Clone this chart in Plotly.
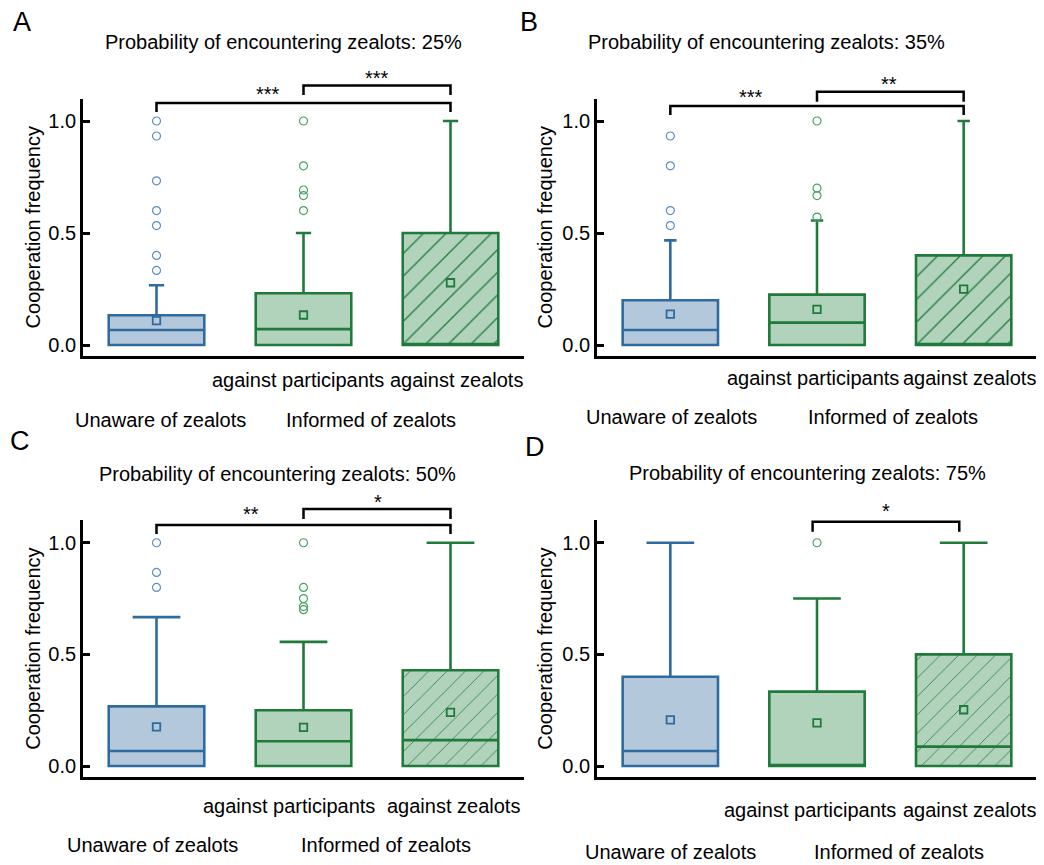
import plotly.graph_objects as go

# ---------------- data ----------------
categories = ["Unaware of zealots", "against participants", "against zealots"]
group_labels = ["Unaware of zealots", "Informed of zealots"]
positions = [0, 1, 2]
panel_letters = ["A", "B", "C", "D"]
probabilities = ["25%", "35%", "50%", "75%"]

q1_A = [0.0, 0.0, 0.0]
median_A = [0.067, 0.071, 0.0]
q3_A = [0.133, 0.231, 0.5]
upper_A = [0.267, 0.5, 1.0]
mean_A = [0.109, 0.134, 0.278]
outliers_A = [[0.333, 0.4, 0.533, 0.6, 0.733, 0.933, 1.0], [0.6, 0.667, 0.692, 0.8, 1.0], []]

q1_B = [0.0, 0.0, 0.0]
median_B = [0.067, 0.1, 0.0]
q3_B = [0.2, 0.225, 0.4]
upper_B = [0.467, 0.556, 1.0]
mean_B = [0.138, 0.159, 0.249]
outliers_B = [[0.533, 0.6, 0.8, 0.933], [0.571, 0.667, 0.7, 1.0], []]

q1_C = [0.0, 0.0, 0.0]
median_C = [0.067, 0.111, 0.116]
q3_C = [0.267, 0.25, 0.429]
upper_C = [0.667, 0.556, 1.0]
mean_C = [0.175, 0.173, 0.24]
outliers_C = [[0.8, 0.867, 1.0], [0.7, 0.714, 0.75, 0.8, 1.0], []]

q1_D = [0.0, 0.0, 0.0]
median_D = [0.067, 0.0, 0.087]
q3_D = [0.4, 0.333, 0.5]
upper_D = [1.0, 0.75, 1.0]
mean_D = [0.207, 0.193, 0.252]
outliers_D = [[], [1.0], []]

# significance: (label, from category, to category)
sig_A = [("***", 0, 2), ("***", 1, 2)]
sig_B = [("***", 0, 2), ("**", 1, 2)]
sig_C = [("**", 0, 2), ("*", 1, 2)]
sig_D = [("*", 1, 2)]

# ---------------- style / layout ----------------
FONT = "Liberation Sans, Arial, sans-serif"
BLUE_LINE = "#2f6b9e"
BLUE_FILL = "#b3c8da"
BLUE_OUT = "#5a8fc2"
GREEN_LINE = "#1f7a3b"
GREEN_FILL = "#b1d3bb"
GREEN_OUT = "#47a265"
OFF = 8                      # page body margin of the browser
W, H = 1044 - OFF, 865 - OFF
XR = [-0.5, 2.5]
YR = [-0.05, 1.10]
BOXW = 0.65

panels = [
    dict(q1=q1_A, med=median_A, q3=q3_A, up=upper_A, mean=mean_A, out=outliers_A, sig=sig_A,
         xpx=(83, 524), ypx=(98.6, 356.2), whisk=0.16, hatch=16, sol=0.08,
         br=[(1.08, 1.04, 0.0, 2.0), (1.158, 1.116, 1.0, 2.0)], st=[(0.76, 1.13), (1.5, 1.202)],
         lab_y=(380, 420), lab_x=(0.96, 2.04, 0.03, 1.46), title_px=(283, 42), letter_px=(22, 22),
         ytitle_x=33),
    dict(q1=q1_B, med=median_B, q3=q3_B, up=upper_B, mean=mean_B, out=outliers_B, sig=sig_B,
         xpx=(597, 1037), ypx=(98.6, 356.2), whisk=0.13, hatch=16, sol=0.08,
         br=[(1.067, 1.027, 0.0, 2.0), (1.131, 1.086, 1.0, 2.0)], st=[(0.55, 1.119), (1.49, 1.173)],
         lab_y=(378, 417), lab_x=(0.97, 2.04, 0.01, 1.52), title_px=(766, 42), letter_px=(529, 22),
         ytitle_x=545),
    dict(q1=q1_C, med=median_C, q3=q3_C, up=upper_C, mean=mean_C, out=outliers_C, sig=sig_C,
         xpx=(83, 524), ypx=(520.4, 777.2), whisk=0.5, hatch=13, sol=0.06,
         br=[(1.079, 1.039, 0.0, 2.0), (1.151, 1.106, 1.0, 2.0)], st=[(0.64, 1.139), (1.51, 1.191)],
         lab_y=(806, 845), lab_x=(0.90, 2.02, -0.03, 1.56), title_px=(277, 474), letter_px=(20, 441),
         ytitle_x=33),
    dict(q1=q1_D, med=median_D, q3=q3_D, up=upper_D, mean=mean_D, out=outliers_D, sig=sig_D,
         xpx=(597, 1037), ypx=(520.4, 777.2), whisk=0.5, hatch=13, sol=0.06,
         br=[(1.094, 1.049, 0.97, 1.97)], st=[(1.47, 1.154)],
         lab_y=(810, 852), lab_x=(0.95, 2.04, 0.0, 1.56), title_px=(807, 473), letter_px=(535, 447),
         ytitle_x=545),
]

line_colors = [BLUE_LINE, GREEN_LINE, GREEN_LINE]
fill_colors = [BLUE_FILL, GREEN_FILL, GREEN_FILL]
out_colors = [BLUE_OUT, GREEN_OUT, GREEN_OUT]

fig = go.Figure()
annotations = []
shapes = []


def px_x(p):
    return (p - OFF) / W


def px_y(p):
    return 1 - (p - OFF) / H


for i, P in enumerate(panels):
    n = "" if i == 0 else str(i + 1)
    xa, ya = "x" + n, "y" + n
    xdom = "x" + n + " domain"
    ydom = "y" + n + " domain"

    def dx(v):
        return (v - XR[0]) / (XR[1] - XR[0])

    def dy(v):
        return (v - YR[0]) / (YR[1] - YR[0])

    # hatched fill for the "against zealots" box (drawn under the box outline)
    k = 2
    fig.add_trace(go.Bar(
        x=[positions[k]], y=[P["q3"][k] - P["q1"][k]], base=[P["q1"][k]], width=BOXW,
        marker=dict(color=GREEN_FILL, line=dict(width=0),
                    pattern=dict(shape="/", fgcolor=GREEN_LINE, bgcolor=GREEN_FILL,
                                 size=P["hatch"], solidity=P["sol"], fillmode="replace")),
        xaxis=xa, yaxis=ya, showlegend=False, hoverinfo="skip"))

    for k in range(3):
        fig.add_trace(go.Box(
            x=[positions[k]], q1=[P["q1"][k]], median=[P["med"][k]], q3=[P["q3"][k]],
            lowerfence=[P["q1"][k]], upperfence=[P["up"][k]],
            width=BOXW, whiskerwidth=P["whisk"], boxpoints=False,
            line=dict(color=line_colors[k], width=2.6),
            fillcolor=("rgba(0,0,0,0)" if k == 2 else fill_colors[k]),
            xaxis=xa, yaxis=ya, showlegend=False, hoverinfo="skip"))
        if P["out"][k]:
            fig.add_trace(go.Scatter(
                x=[positions[k]] * len(P["out"][k]), y=P["out"][k], mode="markers",
                marker=dict(symbol="circle-open", size=8, color=out_colors[k], line=dict(width=1.2)),
                xaxis=xa, yaxis=ya, showlegend=False, hoverinfo="skip", cliponaxis=False))
        fig.add_trace(go.Scatter(
            x=[positions[k]], y=[P["mean"][k]], mode="markers",
            marker=dict(symbol="square-open", size=7.5, color=line_colors[k], line=dict(width=1.8)),
            xaxis=xa, yaxis=ya, showlegend=False, hoverinfo="skip"))

    # axes
    axis_common = dict(showline=True, linecolor="black", linewidth=2.8, showgrid=False,
                       zeroline=False, mirror=False)
    fig.update_layout(**{
        ("xaxis" + n): dict(domain=[px_x(P["xpx"][0]), px_x(P["xpx"][1])], range=XR,
                            showticklabels=False, ticks="", anchor=ya, **axis_common),
        ("yaxis" + n): dict(domain=[px_y(P["ypx"][1]), px_y(P["ypx"][0])], range=YR,
                            tickvals=[0, 0.5, 1.0], ticktext=["0.0", "0.5", "1.0"],
                            ticks="inside", ticklen=7, tickwidth=2.5, tickcolor="black",
                            tickfont=dict(size=20, color="black", family=FONT),
                            anchor=xa, **axis_common),
    })

    # significance brackets
    for (lab, a, b), (yh, yl, xa0, xb0), (sx, sy) in zip(P["sig"], P["br"], P["st"]):
        shapes.append(dict(type="path", xref=xdom, yref=ydom,
                           path=f"M {dx(xa0)},{dy(yl)} L {dx(xa0)},{dy(yh)} L {dx(xb0)},{dy(yh)} L {dx(xb0)},{dy(yl)}",
                           line=dict(color="black", width=2.5)))
        annotations.append(dict(text=lab, xref=xdom, yref=ydom, x=dx(sx), y=dy(sy - 0.01),
                                showarrow=False, xanchor="center", yanchor="middle",
                                font=dict(size=20, color="black", family=FONT)))

    # category labels
    lx = P["lab_x"]
    for txt, xv, yp in [(categories[1], lx[0], P["lab_y"][0]), (categories[2], lx[1], P["lab_y"][0]),
                        (group_labels[0], lx[2], P["lab_y"][1]), (group_labels[1], lx[3], P["lab_y"][1])]:
        annotations.append(dict(text=txt, xref=xdom, yref="paper", x=dx(xv), y=px_y(yp),
                                showarrow=False, xanchor="center", yanchor="middle",
                                font=dict(size=20, color="black", family=FONT)))

    # title, panel letter, y title
    annotations.append(dict(text="Probability of encountering zealots: " + probabilities[i],
                            xref="paper", yref="paper", x=px_x(P["title_px"][0]), y=px_y(P["title_px"][1]),
                            showarrow=False, xanchor="center", yanchor="middle",
                            font=dict(size=20, color="black", family=FONT)))
    annotations.append(dict(text=panel_letters[i], xref="paper", yref="paper",
                            x=px_x(P["letter_px"][0]), y=px_y(P["letter_px"][1]),
                            showarrow=False, xanchor="center", yanchor="middle",
                            font=dict(size=27, color="black", family=FONT)))
    annotations.append(dict(text="Cooperation frequency", xref="paper", yref="paper", textangle=-90,
                            x=px_x(P["ytitle_x"]), y=px_y((P["ypx"][0] + P["ypx"][1]) / 2),
                            showarrow=False, xanchor="center", yanchor="middle",
                            font=dict(size=20, color="black", family=FONT)))

fig.update_layout(
    width=W, height=H, margin=dict(l=0, r=0, t=0, b=0),
    paper_bgcolor="white", plot_bgcolor="white",
    boxmode="overlay", barmode="overlay", showlegend=False,
    font=dict(family=FONT, size=20, color="black"),
    annotations=annotations, shapes=shapes,
)

fig.write_html("out.html")
